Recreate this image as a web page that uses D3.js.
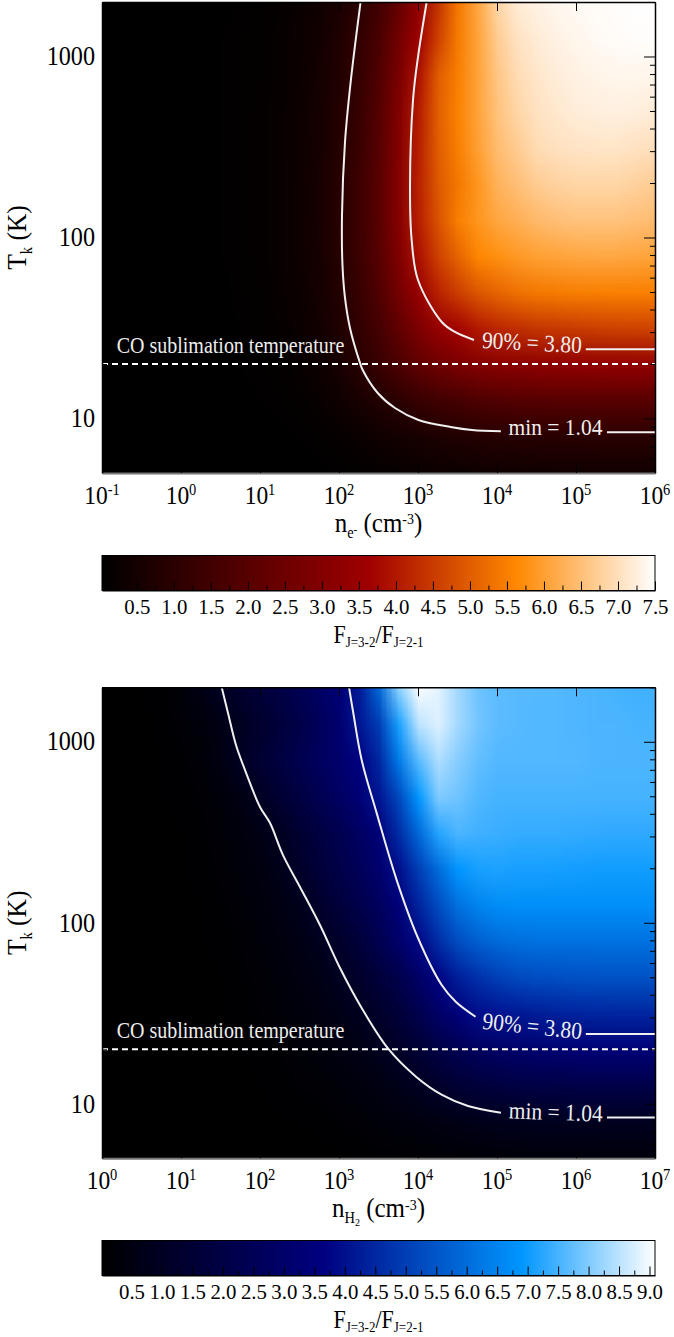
<!DOCTYPE html>
<html>
<head>
<meta charset="utf-8">
<script src="https://cdn.jsdelivr.net/npm/d3@7"></script>
<style>
  html, body { margin: 0; background: #fff; }
  svg { display: block; }
  text { font-family: "Liberation Serif", serif; fill: #000; }
</style>
</head>
<body>
<svg id="chart" width="674" height="1337"></svg>
<script>
// grid nodes: log10 T (K) goes with the rows, log10 n steps by .25 with the columns
let logTRows = [3.3, 3.1, 2.9, 2.7, 2.5, 2.3, 2.1, 1.9, 1.7, 1.5, 1.3, 1.1, 0.9, 0.7];
let logNeCols = [-1, -.75, -.5, -.25, 0, .25, .5, .75, 1, 1.25, 1.5, 1.75, 2, 2.25, 2.5, 2.75, 3, 3.25, 3.5, 3.75, 4, 4.25, 4.5, 4.75, 5, 5.25, 5.5, 5.75, 6];
let logNh2Cols = [0, .25, .5, .75, 1, 1.25, 1.5, 1.75, 2, 2.25, 2.5, 2.75, 3, 3.25, 3.5, 3.75, 4, 4.25, 4.5, 4.75, 5, 5.25, 5.5, 5.75, 6, 6.25, 6.5, 6.75, 7];

// flux ratio
let ratioElectrons = [
  [.03,.03,.03,.03,.04,.05,.06,.08,.11,.16,.25,.4,.65,1.0,1.5,2.3,3.3,4.4,5.4,6.1,6.85,7.2,7.3,7.38,7.42,7.45,7.47,7.5,7.5],
  [.03,.03,.03,.03,.04,.05,.07,.09,.12,.18,.28,.45,.75,1.15,1.7,2.6,3.6,4.6,5.45,6.05,6.7,7.05,7.2,7.3,7.37,7.42,7.45,7.47,7.48],
  [.03,.03,.03,.04,.04,.05,.07,.09,.13,.19,.3,.5,.8,1.2,1.85,2.8,3.9,5.0,5.5,6.05,6.6,6.95,7.12,7.22,7.3,7.34,7.37,7.37,7.35],
  [.03,.03,.03,.04,.04,.05,.07,.1,.14,.2,.32,.52,.85,1.28,1.95,2.95,4.05,5.05,5.55,6.05,6.55,6.85,7.05,7.15,7.22,7.25,7.27,7.25,7.2],
  [.03,.03,.03,.04,.04,.05,.07,.1,.14,.21,.33,.55,.9,1.35,2.0,3.0,4.1,5.0,5.5,6.0,6.45,6.7,6.95,7.03,7.08,7.1,7.1,7.05,7.0],
  [.03,.03,.03,.04,.04,.05,.07,.1,.14,.22,.34,.58,.93,1.4,2.05,3.05,4.15,4.95,5.4,5.85,6.3,6.5,6.7,6.8,6.85,6.85,6.85,6.78,6.7],
  [.03,.03,.03,.04,.04,.05,.07,.1,.14,.22,.34,.58,.93,1.4,2.05,3.05,4.1,4.85,5.5,5.85,6.1,6.25,6.4,6.5,6.55,6.55,6.55,6.5,6.45],
  [.03,.03,.03,.04,.04,.05,.07,.1,.14,.22,.34,.56,.92,1.38,2.0,2.9,3.9,4.6,5.1,5.6,5.75,5.9,6.0,6.05,6.1,6.12,6.12,6.08,6.05],
  [.03,.03,.03,.03,.04,.05,.06,.09,.13,.2,.31,.52,.85,1.28,1.85,2.65,3.45,4.15,4.55,4.9,5.1,5.3,5.4,5.45,5.48,5.5,5.5,5.5,5.5],
  [.03,.03,.03,.03,.04,.04,.06,.08,.11,.17,.27,.45,.75,1.15,1.6,2.2,2.85,3.4,3.7,4.0,4.2,4.3,4.4,4.45,4.5,4.55,4.58,4.6,4.6],
  [.02,.02,.02,.03,.03,.04,.05,.07,.09,.13,.2,.34,.58,.95,1.3,1.75,2.2,2.55,2.8,3.0,3.1,3.15,3.2,3.25,3.27,3.28,3.3,3.3,3.3],
  [.02,.02,.02,.02,.03,.03,.04,.05,.07,.09,.14,.22,.36,.58,.8,1.0,1.25,1.45,1.6,1.75,1.85,1.9,1.95,1.97,1.98,2,2,2,2],
  [.01,.01,.01,.02,.02,.02,.03,.03,.04,.05,.07,.11,.17,.26,.36,.47,.58,.67,.75,.82,.87,.9,.92,.93,.94,.95,.95,.95,.95],
  [.01,.01,.01,.01,.01,.01,.01,.02,.02,.03,.04,.05,.07,.1,.14,.18,.23,.27,.31,.34,.36,.38,.39,.4,.4,.4,.4,.4,.4]
];
let ratioH2 = [
  [.02,.04,.08,.14,.3,.6,1.0,1.3,1.65,2.0,2.4,2.85,3.4,4.2,5.9,8.1,9.05,8.85,8.3,7.85,7.7,7.65,7.62,7.6,7.58,7.55,7.5,7.47,7.45],
  [.02,.03,.05,.09,.18,.34,.6,.95,1.3,1.7,2.1,2.6,3.15,4.1,5.0,7.1,8.5,8.8,8.3,7.9,7.7,7.65,7.6,7.6,7.58,7.55,7.55,7.52,7.5],
  [.02,.03,.05,.08,.14,.25,.55,1.04,1.45,1.85,2.25,2.7,3.1,3.65,4.5,6.3,7.65,8.4,8.05,7.75,7.6,7.6,7.6,7.6,7.6,7.55,7.55,7.55,7.55],
  [.02,.03,.04,.06,.1,.17,.3,.55,.98,1.45,1.9,2.35,2.8,3.3,4.1,5.2,6.9,8.0,7.85,7.6,7.5,7.5,7.5,7.5,7.5,7.5,7.5,7.5,7.5],
  [.01,.02,.03,.05,.08,.13,.22,.38,.62,.95,1.4,1.85,2.3,2.8,3.45,4.6,5.9,7.2,7.55,7.45,7.4,7.35,7.35,7.35,7.33,7.32,7.3,7.3,7.3],
  [.01,.02,.03,.04,.07,.11,.18,.3,.48,.75,1.2,1.65,2.1,2.55,3.1,3.95,5.0,6.0,6.9,7.1,7.15,7.1,7.1,7.08,7.07,7.05,7.05,7.05,7.05],
  [.01,.02,.02,.03,.05,.08,.13,.22,.35,.55,.82,1.25,1.7,2.15,2.65,3.45,4.4,5.3,6.1,6.5,6.7,6.75,6.75,6.75,6.75,6.75,6.75,6.75,6.75],
  [.01,.01,.02,.03,.04,.06,.1,.17,.27,.42,.62,.9,1.25,1.65,2.3,3.0,3.78,4.6,5.3,5.7,5.95,6.05,6.1,6.1,6.1,6.1,6.1,6.1,6.1],
  [.01,.01,.02,.02,.03,.05,.08,.13,.2,.31,.46,.65,.95,1.25,1.65,2.15,2.9,3.7,4.3,4.7,5.0,5.2,5.3,5.35,5.38,5.4,5.4,5.4,5.4],
  [.01,.01,.01,.02,.03,.04,.06,.1,.15,.23,.34,.48,.66,.9,1.2,1.6,2.2,2.9,3.45,3.9,4.05,4.15,4.25,4.35,4.4,4.42,4.45,4.45,4.45],
  [.01,.01,.01,.02,.02,.03,.05,.07,.11,.17,.24,.34,.46,.62,.85,1.15,1.5,1.95,2.35,2.65,2.85,3.0,3.1,3.2,3.28,3.32,3.35,3.35,3.35],
  [.01,.01,.01,.01,.02,.02,.03,.05,.07,.1,.15,.2,.28,.38,.52,.72,.95,1.2,1.45,1.65,1.8,1.9,1.97,2.0,2.03,2.05,2.05,2.05,2.05],
  [.01,.01,.01,.01,.01,.02,.02,.03,.04,.06,.08,.11,.15,.2,.27,.34,.42,.52,.62,.7,.78,.83,.87,.89,.9,.91,.92,.92,.92],
  [.01,.01,.01,.01,.01,.01,.01,.01,.02,.02,.03,.04,.05,.07,.09,.11,.14,.16,.19,.22,.24,.26,.27,.28,.29,.3,.3,.3,.3]
];

// contours as [log n, log T], each one broken where its label sits
let minElectrons = [[2.273,3.301],[2.152,2.876],[2.076,2.528],[2.038,2.124],[2.044,1.848],[2.076,1.666],[2.139,1.5],[2.266,1.307],[2.3,1.268],[2.49,1.141],[2.709,1.058],[3.006,.992],[3.413,.953],[3.684,.936],[4.049,.929]];
let minElectronsEnd = [[5.392,.924],[6,.924]];
let topElectrons = [[3.11,3.301],[3.0,2.997],[2.937,2.76],[2.899,2.279],[2.92,1.986],[3.0,1.765],[3.3,1.533],[3.468,1.478],[3.709,1.434]];
let topElectronsEnd = [[5.124,1.382],[6,1.382]];
let minH2 = [[1.515,3.301],[1.595,3.159],[1.696,2.982],[1.81,2.844],[2.0,2.64],[2.127,2.551],[2.291,2.374],[2.506,2.198],[2.759,1.988],[3.013,1.75],[3.287,1.529],[3.625,1.303],[3.975,1.15],[4.304,1.049],[4.633,.988],[5.05,.951]];
let minH2End = [[6.392,.925],[7,.925]];
let topH2 = [[3.127,3.301],[3.181,3.159],[3.287,2.899],[3.477,2.606],[3.73,2.236],[4.0,1.916],[4.3,1.656],[4.481,1.562],[4.728,1.481]];
let topH2End = [[6.124,1.385],[7,1.385]];

let tempMajor = [10, 100, 1000];
let tempMinor = [6, 7, 8, 9, 20, 30, 40, 50, 60, 70, 80, 90, 200, 300, 400, 500, 600, 700, 800, 900, 2000];
let coSublimation = 20;

let barTicksElectrons = [0.5, 1.0, 1.5, 2.0, 2.5, 3.0, 3.5, 4.0, 4.5, 5.0, 5.5, 6.0, 6.5, 7.0, 7.5];
let barTicksH2 = [0.5, 1.0, 1.5, 2.0, 2.5, 3.0, 3.5, 4.0, 4.5, 5.0, 5.5, 6.0, 6.5, 7.0, 7.5, 8.0, 8.5, 9.0];
let barMinorElectrons = [0.25, 0.75, 1.25, 1.75, 2.25, 2.75, 3.25, 3.75, 4.25, 4.75, 5.25, 5.75, 6.25, 6.75, 7.25];
let barMinorH2 = [0.25, 0.75, 1.25, 1.75, 2.25, 2.75, 3.25, 3.75, 4.25, 4.75, 5.25, 5.75, 6.25, 6.75, 7.25, 7.75, 8.25, 8.75];

let svg = d3.select("#chart");
let line = d3.line().curve(d3.curveCatmullRom);
let tallText = 1.11; // the glyphs in the picture are a bit taller than wide

// text with raised or lowered parts, pieces are [string, size, shift]
function richText(g, x, y, pieces, rotate) {
    let t = g.append("text").attr("text-anchor", "middle")
        .attr("transform", "translate(" + x + "," + y + ") rotate(" + (rotate || 0) + ") scale(1," + tallText + ")");
    let now = 0;
    pieces.forEach(function (p) {
        t.append("tspan").attr("font-size", p[1]).attr("dy", p[2] - now).text(p[0]);
        now = p[2];
    });
    return t;
}

function drawPanel(cfg) {
    let left = 102, right = 655, top = cfg.top, bottom = cfg.top + 471;
    let x = d3.scaleLog().domain(cfg.xDomain).range([left, right]);
    let y = d3.scaleLog().domain([5, 2000]).range([bottom, top]);
    let color = d3.scaleLinear().domain(cfg.colorDomain).range(cfg.colorRange).clamp(true);

    // the grid goes to a tiny canvas, the browser smooths it when it is stretched over the plot
    let cols = cfg.cols, rows = logTRows;
    let canvas = document.createElement("canvas");
    canvas.width = cols.length;
    canvas.height = rows.length;
    let ctx = canvas.getContext("2d");
    cfg.values.forEach(function (row, j) {
        row.forEach(function (v, i) {
            ctx.fillStyle = color(v);
            ctx.fillRect(i, j, 1, 1);
        });
    });

    let clipId = "clip" + top;
    svg.append("clipPath").attr("id", clipId).append("rect")
        .attr("x", left).attr("y", top).attr("width", right - left).attr("height", bottom - top);

    let x0 = x(Math.pow(10, cols[0] - 0.125)), x1 = x(Math.pow(10, cols[cols.length - 1] + 0.125));
    let y0 = y(Math.pow(10, rows[0] + 0.1)), y1 = y(Math.pow(10, rows[rows.length - 1] - 0.1));
    svg.append("image")
        .attr("href", canvas.toDataURL())
        .attr("x", x0).attr("y", y0)
        .attr("width", x1 - x0).attr("height", y1 - y0)
        .attr("preserveAspectRatio", "none")
        .attr("clip-path", "url(#" + clipId + ")");

    let toPixel = function (d) { return [x(Math.pow(10, d[0])), y(Math.pow(10, d[1]))]; };
    cfg.contours.forEach(function (c) {
        svg.append("path").attr("d", line(c.map(toPixel)))
            .attr("fill", "none").attr("stroke", "#f0f0f0").attr("stroke-width", 2);
    });

    svg.append("line")
        .attr("x1", left).attr("x2", right)
        .attr("y1", y(coSublimation)).attr("y2", y(coSublimation))
        .attr("stroke", "#fff").attr("stroke-width", 2).attr("stroke-dasharray", "6,4");

    let note = svg.append("g");
    richText(note, 230.5, top + 351, [["CO sublimation temperature", 20, 0]]).style("fill", "#eee");
    richText(note, 531.5, cfg.topLabelY, [["90% = 3.80", 21.5, 0]], cfg.topLabelAngle).style("fill", "#eee");
    richText(note, 555.5, cfg.minLabelY, [["min = 1.04", 21.5, 0]], cfg.minLabelAngle).style("fill", "#eee");

    // box and ticks, all pointing inwards
    let xTicks = d3.range(Math.log10(cfg.xDomain[0]), Math.log10(cfg.xDomain[1]) + 1).map(function (e) { return Math.pow(10, e); });
    [[d3.axisBottom, bottom, "#777"], [d3.axisTop, top, "#000"]].forEach(function (a) {
        let g = svg.append("g").attr("transform", "translate(0," + a[1] + ")")
            .call(a[0](x).tickValues(xTicks).tickSizeInner(-9).tickSizeOuter(0).tickFormat(""));
        g.selectAll(".tick line").attr("stroke", "#000");
        g.select(".domain").attr("stroke", a[2]).attr("stroke-width", a[1] === bottom ? 2 : 1.5);
    });
    [[d3.axisLeft, left], [d3.axisRight, right]].forEach(function (a) {
        let g = svg.append("g").attr("transform", "translate(" + a[1] + ",0)");
        g.call(a[0](y).tickValues(tempMajor).tickSizeInner(-11).tickSizeOuter(0).tickFormat(""));
        g.append("g").call(a[0](y).tickValues(tempMinor).tickSizeInner(-5).tickSizeOuter(0).tickFormat(""))
            .select(".domain").remove();
        g.selectAll(".domain").attr("stroke-width", 1.5);
    });

    // tick labels by hand, the exponents need to be raised
    let labels = svg.append("g");
    xTicks.forEach(function (v) {
        richText(labels, x(v), bottom + 31, [["10", 23.5, 0], [String(Math.round(Math.log10(v))), 14.5, -8.5]]);
    });
    tempMajor.forEach(function (v) {
        labels.append("text").attr("text-anchor", "end").attr("font-size", 24.2)
            .attr("transform", "translate(95," + (y(v) + 8.7) + ") scale(1," + tallText + ")").text(v);
    });
    richText(labels, 26, top + 235.5, [["T", 25.5, 0], ["k", 14.5, 5], [" (K)", 25.5, 0]], -90);
    richText(labels, 378.5, bottom + 59, cfg.xTitle);

    // colour bar
    let barTop = cfg.barTop, barBottom = cfg.barTop + 35;
    let bx = d3.scaleLinear().domain(cfg.barDomain).range([left, right]);
    let gradId = "grad" + top;
    let grad = svg.append("linearGradient").attr("id", gradId);
    cfg.colorDomain.forEach(function (v, i) {
        grad.append("stop")
            .attr("offset", (v - cfg.barDomain[0]) / (cfg.barDomain[1] - cfg.barDomain[0]))
            .attr("stop-color", cfg.colorRange[i]);
    });
    svg.append("rect").attr("x", left).attr("y", barTop)
        .attr("width", right - left).attr("height", barBottom - barTop)
        .attr("fill", "url(#" + gradId + ")").attr("stroke", "#000").attr("stroke-width", 1);

    let barAxis = svg.append("g").attr("transform", "translate(0," + barBottom + ")");
    barAxis.call(d3.axisBottom(bx).tickValues(cfg.barTicks).tickSizeInner(-9).tickSizeOuter(0)
        .tickFormat(d3.format(".1f")).tickPadding(9));
    barAxis.selectAll(".tick text").attr("font-size", 20.8).attr("font-family", "Liberation Serif").attr("fill", "#000");
    barAxis.append("g").call(d3.axisBottom(bx).tickValues(cfg.barMinor).tickSizeInner(-5).tickSizeOuter(0).tickFormat(""))
        .select(".domain").remove();

    richText(svg, 378.5, barBottom + 52.5, [["F", 22, 0], ["J=3-2", 13, 4], ["/F", 22, 0], ["J=2-1", 13, 4]]);
}

drawPanel({
    top: 2,
    barTop: 555.5,
    xDomain: [0.1, 1e6],
    cols: logNeCols,
    values: ratioElectrons,
    colorDomain: [0.03, 3.65, 5.63, 7.5],
    colorRange: ["#000000", "#a00000", "#ff8800", "#ffffff"],
    barDomain: [0.03, 7.5],
    barTicks: barTicksElectrons,
    barMinor: barMinorElectrons,
    contours: [minElectrons, minElectronsEnd, topElectrons, topElectronsEnd],
    topLabelY: 350.5, topLabelAngle: 3,
    minLabelY: 435, minLabelAngle: 0,
    xTitle: [["n", 25, 0], ["e", 14.5, 5], ["-", 11, 2], [" (cm", 25, 0], ["-3", 14, -7], [")", 25, 0]]
});

drawPanel({
    top: 687.3,
    barTop: 1240.5,
    xDomain: [1, 1e7],
    cols: logNh2Cols,
    values: ratioH2,
    colorDomain: [0.016, 3.65, 6.9, 9.09],
    colorRange: ["#000000", "#000080", "#0096ff", "#ffffff"],
    barDomain: [0.016, 9.09],
    barTicks: barTicksH2,
    barMinor: barMinorH2,
    contours: [minH2, minH2End, topH2, topH2End],
    topLabelY: 1034, topLabelAngle: 6,
    minLabelY: 1120, minLabelAngle: 2,
    xTitle: [["n", 25, 0], ["H", 14.5, 5], ["2", 10, 8], [" (cm", 25, 0], ["-3", 14, -7], [")", 25, 0]]
});
</script>
</body>
</html>
